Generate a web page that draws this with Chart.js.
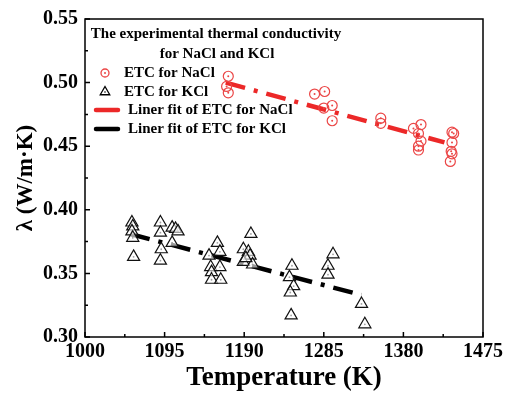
<!DOCTYPE html>
<html>
<head>
<meta charset="utf-8">
<script src="https://cdn.jsdelivr.net/npm/chart.js@4"></script>
<style>
  html, body { margin: 0; padding: 0; background: #fff; }
  #wrap { width: 506px; height: 394px; }
</style>
</head>
<body>
<div id="wrap"><canvas id="chart" width="506" height="394"></canvas></div>
<script>
// Measured points (temperature in K, thermal conductivity in W/m.K)
const naclTemp = [1171, 1169, 1171, 1274, 1286, 1285, 1295, 1295, 1353, 1353, 1401, 1392, 1398, 1401, 1398, 1398, 1438, 1440, 1438, 1437, 1438, 1436];
const naclEtc = [0.505, 0.497, 0.492, 0.491, 0.493, 0.480, 0.482, 0.470, 0.472, 0.468, 0.467, 0.464, 0.460, 0.454, 0.450, 0.447, 0.461, 0.460, 0.453, 0.446, 0.444, 0.438];

const kclTemp = [1056, 1057, 1056, 1057, 1058, 1090, 1090, 1091, 1090, 1104, 1104, 1108, 1111,
  1158, 1161, 1148, 1150, 1161, 1151, 1151, 1162,
  1198, 1189, 1195, 1197, 1189, 1200, 1192,
  1247, 1244, 1249, 1245, 1246, 1296, 1290, 1290, 1330, 1334];
const kclEtc = [0.390, 0.387, 0.383, 0.378, 0.363, 0.390, 0.382, 0.369, 0.360, 0.374, 0.386, 0.385, 0.383,
  0.374, 0.367, 0.364, 0.355, 0.355, 0.351, 0.345, 0.345,
  0.381, 0.369, 0.367, 0.364, 0.359, 0.357, 0.362,
  0.356, 0.347, 0.340, 0.335, 0.317, 0.365, 0.356, 0.349, 0.326, 0.310];

// Linear fits (end points)
const naclFitTemp = [1168, 1429];
const naclFitEtc = [0.500, 0.453];
const kclFitTemp = [1054, 1330];
const kclFitEtc = [0.381, 0.333];

// Axis tick labels
const xTickLabels = [1000, 1095, 1190, 1285, 1380, 1475];
const yTickLabels = [0.30, 0.35, 0.40, 0.45, 0.50, 0.55];

const legendTitle = ['The experimental thermal conductivity', 'for NaCl and KCl'];
const seriesNames = ['ETC for NaCl', 'ETC for KCl', 'Liner fit of ETC for NaCl', 'Liner fit of ETC for KCl'];

const serif = '"Liberation Serif", "DejaVu Serif", serif';
const red = 'rgb(236, 40, 40)';
const circleRed = 'rgb(235, 70, 70)';

function pts(xs, ys) {
    return xs.map((x, i) => ({ x: x, y: ys[i] }));
}

// ticks with a minor one halfway between each labelled tick
function withMinor(labels) {
    const out = [];
    labels.forEach((v, i) => {
        out.push({ value: v, major: true });
        if (i < labels.length - 1) out.push({ value: (v + labels[i + 1]) / 2, major: false });
    });
    return out;
}

// inward tick marks, plot frame and the boxed legend
const framePlugin = {
    id: 'frame',
    afterDraw(chart) {
        const ctx = chart.ctx;
        const a = chart.chartArea;
        const xs = chart.scales.x, ys = chart.scales.y;
        ctx.save();
        ctx.strokeStyle = '#000';
        ctx.lineWidth = 1.5;
        ctx.strokeRect(a.left, a.top, a.right - a.left, a.bottom - a.top);

        ctx.beginPath();
        xs.ticks.forEach(t => {
            const px = xs.getPixelForValue(t.value);
            const len = t.major ? 5 : 3;
            ctx.moveTo(px, a.bottom);
            ctx.lineTo(px, a.bottom - len);
        });
        ys.ticks.forEach(t => {
            const py = ys.getPixelForValue(t.value);
            const len = t.major ? 5 : 3;
            ctx.moveTo(a.left, py);
            ctx.lineTo(a.left + len, py);
        });
        ctx.stroke();

        // legend
        const ds = chart.data.datasets;
        ctx.fillStyle = '#000';
        ctx.font = 'bold 15px ' + serif;
        ctx.textBaseline = 'middle';
        ctx.textAlign = 'center';
        ctx.fillText(legendTitle[0], a.left + 131, a.top + 15);
        ctx.fillText(legendTitle[1], a.left + 132, a.top + 35);
        ctx.textAlign = 'left';

        // circle item
        let y = a.top + 54;
        const cx = a.left + 20;
        ctx.strokeStyle = ds[0].borderColor;
        ctx.lineWidth = 1.3;
        ctx.beginPath();
        ctx.arc(cx, y, 4, 0, Math.PI * 2);
        ctx.stroke();
        ctx.fillStyle = ds[0].borderColor;
        ctx.beginPath();
        ctx.arc(cx, y, 1, 0, Math.PI * 2);
        ctx.fill();
        ctx.fillStyle = '#000';
        ctx.fillText(ds[0].label, a.left + 39, y);

        // triangle item
        y = a.top + 73;
        const r = 5.5;
        ctx.strokeStyle = '#000';
        ctx.beginPath();
        ctx.moveTo(cx, y - r);
        ctx.lineTo(cx + r * 0.866, y + r / 2);
        ctx.lineTo(cx - r * 0.866, y + r / 2);
        ctx.closePath();
        ctx.stroke();
        ctx.beginPath();
        ctx.arc(cx, y, 0.8, 0, Math.PI * 2);
        ctx.fill();
        ctx.fillText(ds[2].label, a.left + 39, y);

        // line items
        [4, 5].forEach((k, i) => {
            const ly = a.top + 91 + i * 19;
            ctx.strokeStyle = ds[k].borderColor;
            ctx.lineWidth = 4.5;
            ctx.lineCap = 'round';
            ctx.beginPath();
            ctx.moveTo(a.left + 11, ly);
            ctx.lineTo(a.left + 33, ly);
            ctx.stroke();
            ctx.fillText(ds[k].label, a.left + 43, ly);
        });
        ctx.restore();
    }
};

const ctx = document.getElementById('chart').getContext('2d');
new Chart(ctx, {
    type: 'scatter',
    data: {
        datasets: [
            {
                label: seriesNames[0],
                data: pts(naclTemp, naclEtc),
                pointStyle: 'circle',
                pointRadius: 5,
                borderColor: circleRed,
                backgroundColor: 'rgba(0,0,0,0)',
                borderWidth: 1.2
            },
            {
                label: '',
                data: pts(naclTemp, naclEtc),
                pointStyle: 'circle',
                pointRadius: 1,
                borderWidth: 0,
                backgroundColor: circleRed
            },
            {
                label: seriesNames[1],
                data: pts(kclTemp, kclEtc),
                pointStyle: 'triangle',
                pointRadius: 7,
                borderColor: '#111',
                backgroundColor: 'rgba(255,255,255,0.6)',
                borderWidth: 1.2
            },
            {
                label: '',
                data: pts(kclTemp, kclEtc),
                pointStyle: 'circle',
                pointRadius: 0.9,
                borderWidth: 0,
                backgroundColor: '#111'
            },
            {
                label: seriesNames[2],
                data: pts(naclFitTemp, naclFitEtc),
                showLine: true,
                pointRadius: 0,
                borderColor: red,
                borderWidth: 4.5,
                borderDash: [20, 9, 4, 9],
                borderCapStyle: 'butt'
            },
            {
                label: seriesNames[3],
                data: pts(kclFitTemp, kclFitEtc),
                showLine: true,
                pointRadius: 0,
                borderColor: '#000',
                borderWidth: 4.5,
                borderDash: [20, 9, 4, 9],
                borderCapStyle: 'butt'
            }
        ]
    },
    options: {
        responsive: false,
        animation: false,
        events: [],
        layout: { padding: { top: 17, right: 22, left: 0, bottom: 0 } },
        plugins: {
            legend: { display: false },
            tooltip: { enabled: false }
        },
        scales: {
            x: {
                type: 'linear',
                min: 1000,
                max: 1475,
                afterBuildTicks: s => { s.ticks = withMinor(xTickLabels); },
                afterFit: s => { s.height = 57; },
                grid: { display: false, drawTicks: false },
                border: { display: false },
                ticks: {
                    autoSkip: false,
                    maxRotation: 0,
                    padding: 3,
                    color: '#000',
                    font: { family: serif, size: 20, weight: 'bold' },
                    callback: (v, i, ticks) => ticks[i].major ? String(v) : ''
                },
                title: {
                    display: true,
                    text: 'Temperature (K)',
                    color: '#000',
                    padding: { top: 0, bottom: 0 },
                    font: { family: serif, size: 27, weight: 'bold' }
                }
            },
            y: {
                min: 0.30,
                max: 0.55,
                afterBuildTicks: s => { s.ticks = withMinor(yTickLabels); },
                afterFit: s => { s.width = 85; },
                grid: { display: false, drawTicks: false },
                border: { display: false },
                ticks: {
                    autoSkip: false,
                    padding: 7,
                    color: '#000',
                    font: { family: serif, size: 20, weight: 'bold' },
                    callback: (v, i, ticks) => ticks[i].major ? v.toFixed(2) : ''
                },
                title: {
                    display: true,
                    text: 'λ (W/m·K)',
                    color: '#000',
                    padding: { top: 12, bottom: 0 },
                    font: { family: serif, size: 23, weight: 'bold' }
                }
            }
        }
    },
    plugins: [framePlugin]
});
</script>
</body>
</html>
